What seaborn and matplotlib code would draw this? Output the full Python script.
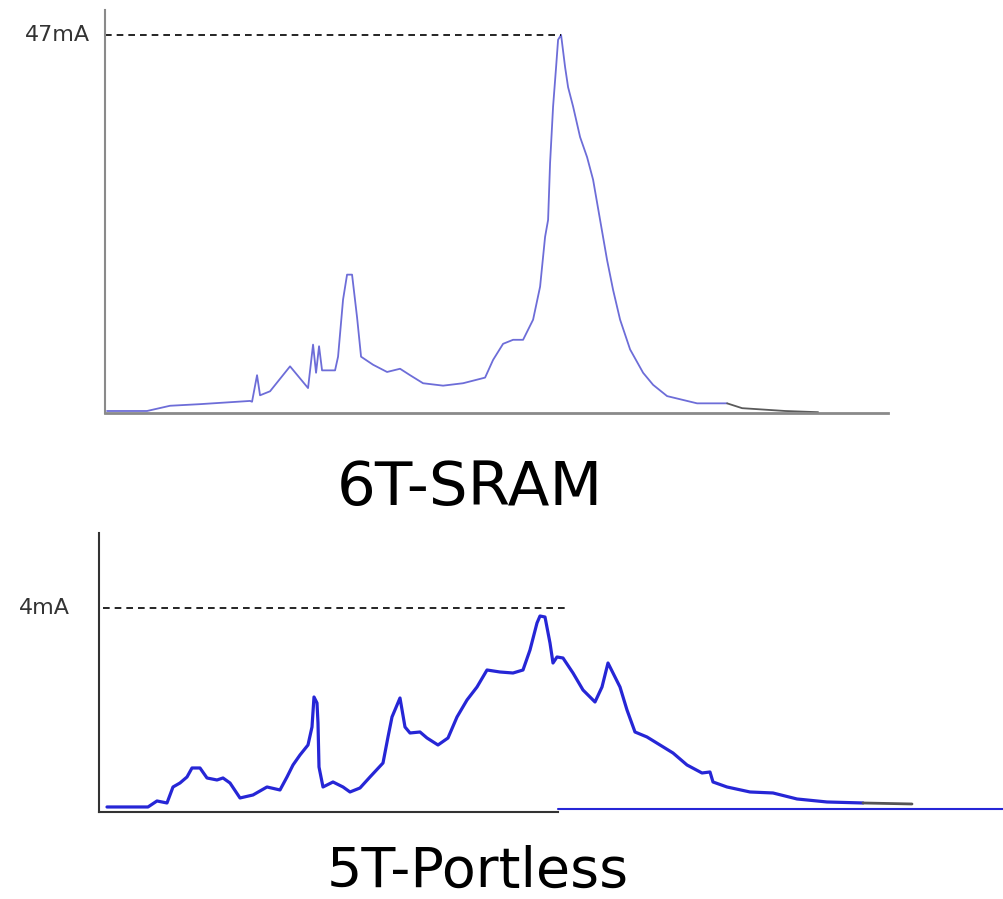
import matplotlib
matplotlib.use("Agg")
import matplotlib.pyplot as plt
import seaborn as sns
import pandas as pd

# --- DATA ---
# 6T-SRAM supply current, time in arbitrary units, current in mA
sram_t = [0.2, 4.2, 6.5, 9.5, 14.5, 14.7, 15.2, 15.5, 16.5, 18.5, 20.3, 20.8, 21.1, 21.4, 21.7,
          23.0, 23.3, 23.8, 24.2, 24.7, 25.2, 25.6, 26.8, 28.2, 29.5, 30.5, 31.8, 33.8, 35.8,
          38.0, 38.8, 39.8, 40.8, 41.8, 42.8, 43.5, 44.0, 44.3, 44.5, 44.8, 45.1, 45.3, 45.6,
          46.0, 46.3, 46.8, 47.5, 48.2, 48.8, 49.5, 50.2, 50.8, 51.5, 52.5, 53.8, 54.8, 56.2,
          59.2, 62.2]
sram_ma = [0.25, 0.25, 0.9, 1.1, 1.5, 1.4, 4.7, 2.2, 2.7, 5.8, 3.1, 8.5, 5.0, 8.3, 5.3,
           5.3, 7.0, 14.1, 17.2, 17.2, 11.9, 7.0, 6.0, 5.1, 5.5, 4.7, 3.7, 3.4, 3.7,
           4.4, 6.6, 8.6, 9.1, 9.1, 11.6, 15.7, 21.9, 24.0, 31.1, 38.1, 43.0, 46.4, 47.0,
           43.0, 40.5, 38.1, 34.3, 31.8, 29.0, 24.0, 19.0, 15.3, 11.6, 7.9, 5.0, 3.5, 2.1,
           1.2, 1.2]
sram_tail_t = [62.2, 63.7, 68.0, 71.3]
sram_tail_ma = [1.2, 0.6, 0.25, 0.1]
SRAM_PEAK = 47

# 5T-Portless supply current
port_t = [0.8, 4.9, 5.8, 6.8, 7.4, 8.1, 8.8, 9.3, 10.1, 10.8, 11.8, 12.4, 13.1, 14.1, 15.4,
          16.8, 18.1, 18.8, 19.4, 20.1, 20.9, 21.3, 21.5, 21.8, 21.9, 22.0, 22.4, 23.4, 24.4,
          25.1, 26.1, 27.1, 28.4, 28.9, 29.3, 30.1, 30.6, 31.1, 32.1, 32.8, 33.9, 34.9, 35.8,
          36.8, 37.8, 38.8, 40.1, 41.4, 42.4, 43.1, 43.8, 44.1, 44.6, 45.1, 45.4, 45.8, 46.4,
          47.4, 48.4, 49.6, 50.3, 50.9, 52.1, 52.8, 53.6, 54.8, 56.1, 57.4, 58.8, 60.3, 61.1,
          61.4, 62.8, 65.1, 67.4, 69.8, 72.8, 76.4]
port_ma = [0.02, 0.02, 0.14, 0.10, 0.42, 0.50, 0.62, 0.80, 0.80, 0.60, 0.56, 0.60, 0.50, 0.20, 0.26,
           0.42, 0.36, 0.62, 0.86, 1.06, 1.26, 1.62, 2.22, 2.10, 1.70, 0.82, 0.42, 0.52, 0.42,
           0.32, 0.40, 0.62, 0.90, 1.42, 1.82, 2.20, 1.62, 1.50, 1.52, 1.40, 1.26, 1.40, 1.82,
           2.16, 2.42, 2.76, 2.72, 2.70, 2.76, 3.16, 3.70, 3.84, 3.82, 3.30, 2.90, 3.02, 3.00,
           2.70, 2.36, 2.12, 2.42, 2.90, 2.42, 1.96, 1.52, 1.42, 1.26, 1.10, 0.86, 0.70, 0.72,
           0.52, 0.42, 0.32, 0.30, 0.18, 0.12, 0.10]
port_tail_t = [76.4, 81.3]
port_tail_ma = [0.10, 0.08]
PORT_PEAK = 4

sns.set_style("white")
plt.rcParams['font.family'] = ['DejaVu Sans']

fig = plt.figure(figsize=(10.04, 8.99), dpi=100)

# --- TOP PANEL: 6T-SRAM ---
ax1 = fig.add_axes([0.1046, 0.5406, 0.780, 0.4483])
sram = pd.DataFrame({"t": sram_t, "mA": sram_ma})
sns.lineplot(data=sram, x="t", y="mA", color="#6d6dd8", linewidth=1.3, ax=ax1, sort=False)
ax1.plot(sram_tail_t, sram_tail_ma, color="#5a5a5a", linewidth=1.3)
ax1.plot([0, 45.6], [SRAM_PEAK, SRAM_PEAK], color="black", linestyle=(0, (4, 3)), linewidth=1.2)
ax1.set_xlim(0, 78.3)
ax1.set_ylim(0, 50.1)
ax1.annotate(f"{SRAM_PEAK}mA", xy=(0, SRAM_PEAK), xytext=(-11, 0), textcoords="offset points",
             ha="right", va="center", fontsize=16, color="#333333")

# --- BOTTOM PANEL: 5T-Portless ---
ax2 = fig.add_axes([0.0986, 0.0968, 0.9014, 0.3103])
port = pd.DataFrame({"t": port_t, "mA": port_ma})
sns.lineplot(data=port, x="t", y="mA", color="#2626d6", linewidth=2.3, ax=ax2, sort=False)
ax2.plot(port_tail_t, port_tail_ma, color="#555555", linewidth=2)
ax2.plot([45.9, 90.5], [-0.02, -0.02], color="#2626d6", linewidth=1.5)
ax2.plot([0.4, 46.9], [PORT_PEAK, PORT_PEAK], color="black", linestyle=(0, (4, 3)), linewidth=1.2)
ax2.set_xlim(0, 90.5)
ax2.set_ylim(-0.08, 5.5)
ax2.annotate(f"{PORT_PEAK}mA", xy=(0, PORT_PEAK), xytext=(-21, 0), textcoords="offset points",
             ha="right", va="center", fontsize=16, color="#333333")

for ax, c in [(ax1, "#8a8a8a"), (ax2, "#333333")]:
    ax.set_xticks([])
    ax.set_yticks([])
    ax.set_xlabel("")
    ax.set_ylabel("")
    ax.spines["top"].set_visible(False)
    ax.spines["right"].set_visible(False)
    ax.spines["left"].set_color(c)
    ax.spines["bottom"].set_color(c)
    ax.spines["left"].set_linewidth(1.5)
    ax.spines["bottom"].set_linewidth(2 if ax is ax1 else 1.5)
    ax.patch.set_alpha(0)
ax2.spines["bottom"].set_bounds(0, 45.9)

fig.text(470 / 1004, 1 - 488 / 899, "6T-SRAM", ha="center", va="center", fontsize=44, color="black")
fig.text(478 / 1004, 1 - 872 / 899, "5T-Portless", ha="center", va="center", fontsize=40, color="black")

fig.savefig("out.png", dpi=100, facecolor="white")
